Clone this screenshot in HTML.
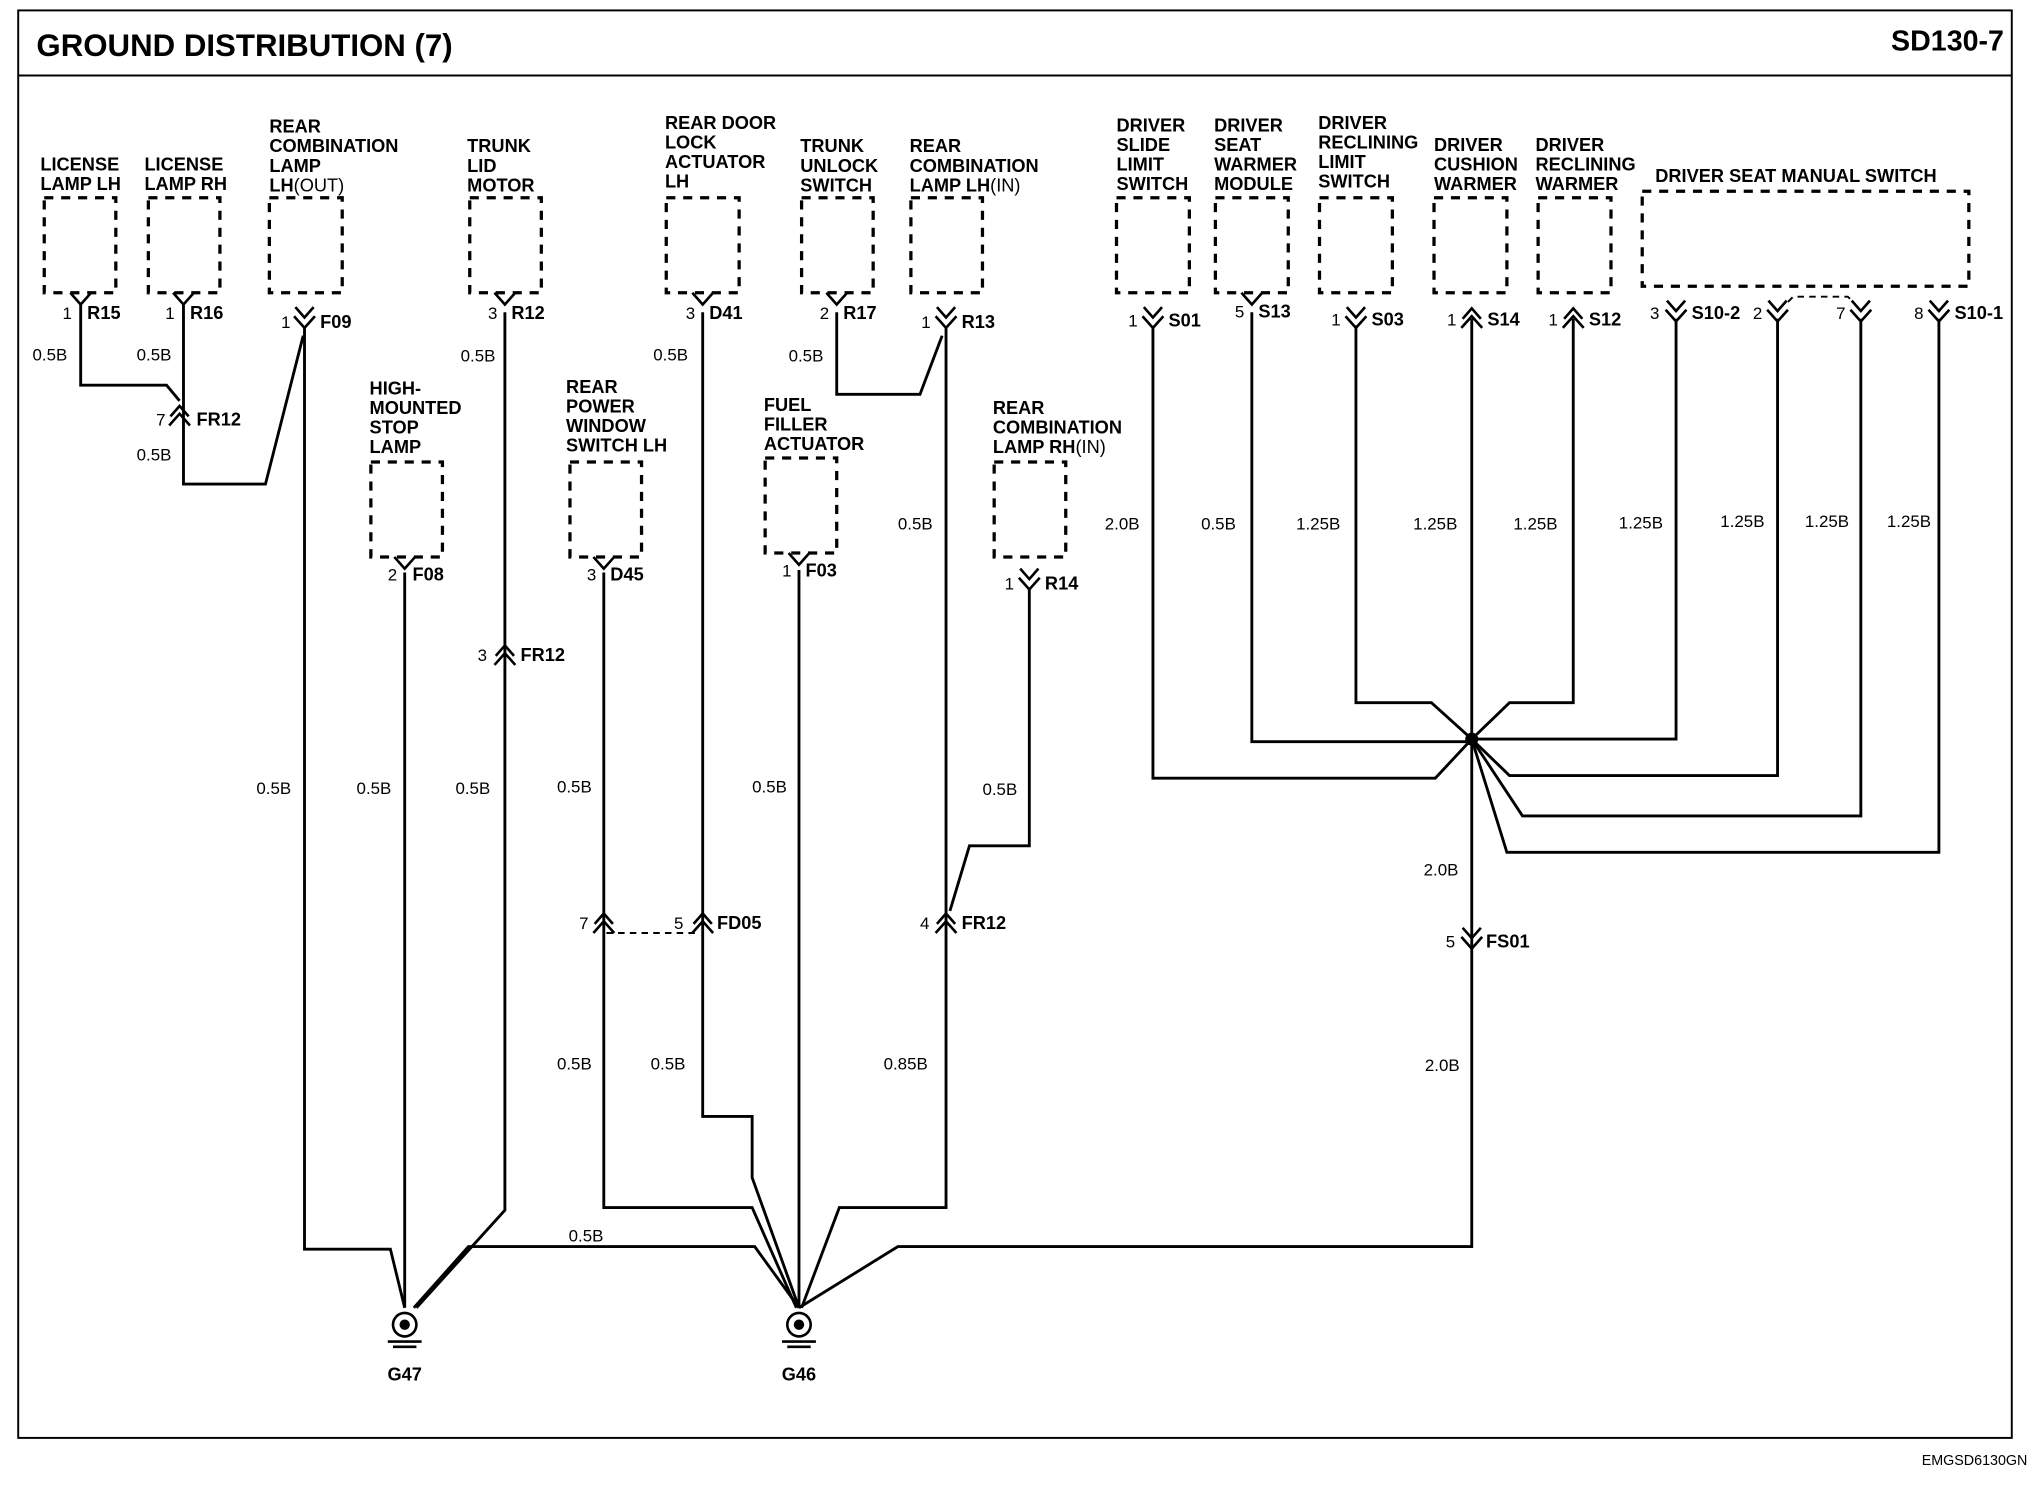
<!DOCTYPE html>
<html><head><meta charset="utf-8"><style>
html,body{margin:0;padding:0;background:#fff}
svg{display:block}
text{font-family:"Liberation Sans",Arial,sans-serif;fill:#000}
.c{font-weight:bold;font-size:14px}
.w{font-size:13px}
.p{font-size:13px}
.n{font-weight:bold;font-size:14px}
</style></head><body>
<svg width="2030" height="1504" viewBox="0 0 1560 1155.8" preserveAspectRatio="none" xmlns="http://www.w3.org/2000/svg">
<rect x="14" y="8" width="1532" height="1097" fill="none" stroke="#000" stroke-width="1.5"/>
<line x1="14" y1="58" x2="1546" y2="58" stroke="#000" stroke-width="1.5"/>
<text x="28" y="43" style="font-weight:bold;font-size:24px">GROUND DISTRIBUTION (7)</text>
<text x="1540" y="39" text-anchor="end" style="font-weight:bold;font-size:22px">SD130-7</text>
<text x="1558" y="1126" text-anchor="end" style="font-size:11px">EMGSD6130GN</text>

<!-- dashed boxes -->
<g fill="none" stroke="#000" stroke-width="2.5" stroke-dasharray="7,6">
<rect x="34" y="152" width="55" height="73"/>
<rect x="114" y="152" width="55" height="73"/>
<rect x="207" y="152" width="56" height="73"/>
<rect x="361" y="152" width="55" height="73"/>
<rect x="512" y="152" width="56" height="73"/>
<rect x="616" y="152" width="55" height="73"/>
<rect x="700" y="152" width="55" height="73"/>
<rect x="858" y="152" width="56" height="73"/>
<rect x="934" y="152" width="56" height="73"/>
<rect x="1014" y="152" width="56" height="73"/>
<rect x="1102" y="152" width="56" height="73"/>
<rect x="1182" y="152" width="56" height="73"/>
<rect x="1262" y="147" width="251" height="73"/>
<rect x="285" y="355" width="55" height="73"/>
<rect x="438" y="355" width="55" height="73"/>
<rect x="588" y="352" width="55" height="73"/>
<rect x="764" y="355" width="55" height="73"/>
</g>

<!-- component labels -->
<g class="c">
<text x="31" y="131" class="c">LICENSE</text><text x="31" y="146" class="c">LAMP LH</text>
<text x="111" y="131" class="c">LICENSE</text><text x="111" y="146" class="c">LAMP RH</text>
<text x="207" y="102" class="c">REAR</text><text x="207" y="117" class="c">COMBINATION</text><text x="207" y="132" class="c">LAMP</text><text x="207" y="147" class="c">LH<tspan style="font-weight:normal">(OUT)</tspan></text>
<text x="359" y="117" class="c">TRUNK</text><text x="359" y="132" class="c">LID</text><text x="359" y="147" class="c">MOTOR</text>
<text x="511" y="99" class="c">REAR DOOR</text><text x="511" y="114" class="c">LOCK</text><text x="511" y="129" class="c">ACTUATOR</text><text x="511" y="144" class="c">LH</text>
<text x="615" y="117" class="c">TRUNK</text><text x="615" y="132" class="c">UNLOCK</text><text x="615" y="147" class="c">SWITCH</text>
<text x="699" y="117" class="c">REAR</text><text x="699" y="132" class="c">COMBINATION</text><text x="699" y="147" class="c">LAMP LH<tspan style="font-weight:normal">(IN)</tspan></text>
<text x="858" y="101" class="c">DRIVER</text><text x="858" y="116" class="c">SLIDE</text><text x="858" y="131" class="c">LIMIT</text><text x="858" y="146" class="c">SWITCH</text>
<text x="933" y="101" class="c">DRIVER</text><text x="933" y="116" class="c">SEAT</text><text x="933" y="131" class="c">WARMER</text><text x="933" y="146" class="c">MODULE</text>
<text x="1013" y="99" class="c">DRIVER</text><text x="1013" y="114" class="c">RECLINING</text><text x="1013" y="129" class="c">LIMIT</text><text x="1013" y="144" class="c">SWITCH</text>
<text x="1102" y="116" class="c">DRIVER</text><text x="1102" y="131" class="c">CUSHION</text><text x="1102" y="146" class="c">WARMER</text>
<text x="1180" y="116" class="c">DRIVER</text><text x="1180" y="131" class="c">RECLINING</text><text x="1180" y="146" class="c">WARMER</text>
<text x="1272" y="140" class="c">DRIVER SEAT MANUAL SWITCH</text>
<text x="284" y="303" class="c">HIGH-</text><text x="284" y="318" class="c">MOUNTED</text><text x="284" y="333" class="c">STOP</text><text x="284" y="348" class="c">LAMP</text>
<text x="435" y="302" class="c">REAR</text><text x="435" y="317" class="c">POWER</text><text x="435" y="332" class="c">WINDOW</text><text x="435" y="347" class="c">SWITCH LH</text>
<text x="587" y="316" class="c">FUEL</text><text x="587" y="331" class="c">FILLER</text><text x="587" y="346" class="c">ACTUATOR</text>
<text x="763" y="318" class="c">REAR</text><text x="763" y="333" class="c">COMBINATION</text><text x="763" y="348" class="c">LAMP RH<tspan style="font-weight:normal">(IN)</tspan></text>
</g>

<!-- wires -->
<g fill="none" stroke="#000" stroke-width="2.2">
<polyline points="62,233 62,296 128,296 138,308"/>
<polyline points="141,233 141,372 204,372 233,258"/>
<polyline points="234,252 234,960 300,960 311,1005"/>
<polyline points="311,440 311,1005"/>
<polyline points="388,240 388,930 320,1005"/>
<polyline points="464,440 464,928 578,928 612,1005"/>
<polyline points="540,240 540,858 578,858 578,905 614,1005"/>
<polyline points="643,240 643,303 707,303 724,258"/>
<polyline points="727,252 727,928 645,928 616,1005"/>
<polyline points="614,438 614,1005"/>
<polyline points="791,452 791,650 745,650 730,700"/>
<polyline points="318,1005 360,958 580,958 614,1005"/>
<polyline points="614,1005 690,958 1131,958 1131,568"/>
<polyline points="886,252 886,598 1103,598 1131,568"/>
<polyline points="962,240 962,570 1131,570"/>
<polyline points="1042,250 1042,540 1100,540 1131,568"/>
<polyline points="1131,245 1131,568"/>
<polyline points="1209,245 1209,540 1160,540 1131,568"/>
<polyline points="1288,245 1288,568 1131,568"/>
<polyline points="1366,245 1366,596 1160,596 1131,568"/>
<polyline points="1430,245 1430,627 1170,627 1131,568"/>
<polyline points="1490,245 1490,655 1158,655 1131,568"/>
</g>
<circle cx="1131" cy="568" r="5" fill="#000"/>
<line x1="466" y1="717" x2="536" y2="717" stroke="#000" stroke-width="1.5" stroke-dasharray="5,4"/>
<polyline points="1374,232 1378,228 1420,228 1424,232" fill="none" stroke="#000" stroke-width="1.5" stroke-dasharray="5,4"/>

<!-- connectors: Y type at box edge -->
<g fill="none" stroke="#000" stroke-width="2">
<polyline points="54,225 62,234 70,225"/>
<polyline points="133,225 141,234 149,225"/>
<polyline points="380,225 388,234 396,225"/>
<polyline points="532,225 540,234 548,225"/>
<polyline points="635,225 643,234 651,225"/>
<polyline points="954,225 962,234 970,225"/>
<polyline points="303,428 311,437 319,428"/>
<polyline points="456,428 464,437 472,428"/>
<polyline points="606,425 614,434 622,425"/>
<!-- double down chevrons -->
<polyline points="227,236 234,244 241,236"/><polyline points="226,243 234,252 242,243"/>
<polyline points="720,236 727,244 734,236"/><polyline points="719,243 727,252 735,243"/>
<polyline points="784,437 791,445 798,437"/><polyline points="783,444 791,453 799,444"/>
<polyline points="879,236 886,244 893,236"/><polyline points="878,243 886,252 894,243"/>
<polyline points="1035,236 1042,244 1049,236"/><polyline points="1034,243 1042,252 1050,243"/>
<polyline points="1281,231 1288,239 1295,231"/><polyline points="1280,238 1288,247 1296,238"/>
<polyline points="1359,231 1366,239 1373,231"/><polyline points="1358,238 1366,247 1374,238"/>
<polyline points="1423,231 1430,239 1437,231"/><polyline points="1422,238 1430,247 1438,238"/>
<polyline points="1483,231 1490,239 1497,231"/><polyline points="1482,238 1490,247 1498,238"/>
<polyline points="1124,713 1131,721 1138,713"/><polyline points="1123,720 1131,729 1139,720"/>
<!-- up chevrons -->
<polyline points="131,320 138,312 145,320"/><polyline points="130,327 138,318 146,327"/>
<polyline points="381,504 388,496 395,504"/><polyline points="380,511 388,502 396,511"/>
<polyline points="457,710 464,702 471,710"/><polyline points="456,717 464,708 472,717"/>
<polyline points="533,710 540,702 547,710"/><polyline points="532,717 540,708 548,717"/>
<polyline points="720,710 727,702 734,710"/><polyline points="719,717 727,708 735,717"/>
<polyline points="1124,245 1131,237 1138,245"/><polyline points="1123,252 1131,243 1139,252"/>
<polyline points="1202,245 1209,237 1216,245"/><polyline points="1201,252 1209,243 1217,252"/>
</g>

<!-- pin / connector labels -->
<g>
<text x="48" y="245" class="p">1</text><text x="67" y="245" class="n">R15</text>
<text x="127" y="245" class="p">1</text><text x="146" y="245" class="n">R16</text>
<text x="216" y="252" class="p">1</text><text x="246" y="252" class="n">F09</text>
<text x="120" y="327" class="p">7</text><text x="151" y="327" class="n">FR12</text>
<text x="375" y="245" class="p">3</text><text x="393" y="245" class="n">R12</text>
<text x="527" y="245" class="p">3</text><text x="545" y="245" class="n">D41</text>
<text x="630" y="245" class="p">2</text><text x="648" y="245" class="n">R17</text>
<text x="708" y="252" class="p">1</text><text x="739" y="252" class="n">R13</text>
<text x="867" y="251" class="p">1</text><text x="898" y="251" class="n">S01</text>
<text x="949" y="244" class="p">5</text><text x="967" y="244" class="n">S13</text>
<text x="1023" y="250" class="p">1</text><text x="1054" y="250" class="n">S03</text>
<text x="1112" y="250" class="p">1</text><text x="1143" y="250" class="n">S14</text>
<text x="1190" y="250" class="p">1</text><text x="1221" y="250" class="n">S12</text>
<text x="1268" y="245" class="p">3</text><text x="1300" y="245" class="n">S10-2</text>
<text x="1347" y="245" class="p">2</text>
<text x="1411" y="245" class="p">7</text>
<text x="1471" y="245" class="p">8</text><text x="1502" y="245" class="n">S10-1</text>
<text x="298" y="446" class="p">2</text><text x="317" y="446" class="n">F08</text>
<text x="451" y="446" class="p">3</text><text x="469" y="446" class="n">D45</text>
<text x="601" y="443" class="p">1</text><text x="619" y="443" class="n">F03</text>
<text x="772" y="453" class="p">1</text><text x="803" y="453" class="n">R14</text>
<text x="367" y="508" class="p">3</text><text x="400" y="508" class="n">FR12</text>
<text x="445" y="714" class="p">7</text>
<text x="518" y="714" class="p">5</text><text x="551" y="714" class="n">FD05</text>
<text x="707" y="714" class="p">4</text><text x="739" y="714" class="n">FR12</text>
<text x="1111" y="728" class="p">5</text><text x="1142" y="728" class="n">FS01</text>
</g>

<!-- wire labels -->
<g class="w">
<text x="25" y="277">0.5B</text><text x="105" y="277">0.5B</text><text x="105" y="354">0.5B</text>
<text x="354" y="278">0.5B</text><text x="502" y="277">0.5B</text><text x="606" y="278">0.5B</text>
<text x="690" y="407">0.5B</text>
<text x="849" y="407">2.0B</text><text x="923" y="407">0.5B</text><text x="996" y="407">1.25B</text>
<text x="1086" y="407">1.25B</text><text x="1163" y="407">1.25B</text><text x="1244" y="406">1.25B</text>
<text x="1322" y="405">1.25B</text><text x="1387" y="405">1.25B</text><text x="1450" y="405">1.25B</text>
<text x="197" y="610">0.5B</text><text x="274" y="610">0.5B</text><text x="350" y="610">0.5B</text>
<text x="428" y="609">0.5B</text><text x="578" y="609">0.5B</text><text x="755" y="611">0.5B</text>
<text x="1094" y="673">2.0B</text>
<text x="428" y="822">0.5B</text><text x="500" y="822">0.5B</text><text x="679" y="822">0.85B</text>
<text x="1095" y="823">2.0B</text>
<text x="437" y="954">0.5B</text>
</g>

<!-- grounds -->
<g fill="none" stroke="#000" stroke-width="2">
<circle cx="311" cy="1018" r="9"/><line x1="298" y1="1031" x2="324" y2="1031"/><line x1="302" y1="1035" x2="320" y2="1035"/>
<circle cx="614" cy="1018" r="9"/><line x1="601" y1="1031" x2="627" y2="1031"/><line x1="605" y1="1035" x2="623" y2="1035"/>
</g>
<circle cx="311" cy="1018" r="4" fill="#000"/><circle cx="614" cy="1018" r="4" fill="#000"/>
<text x="311" y="1061" text-anchor="middle" class="n">G47</text>
<text x="614" y="1061" text-anchor="middle" class="n">G46</text>
</svg>
</body></html>
